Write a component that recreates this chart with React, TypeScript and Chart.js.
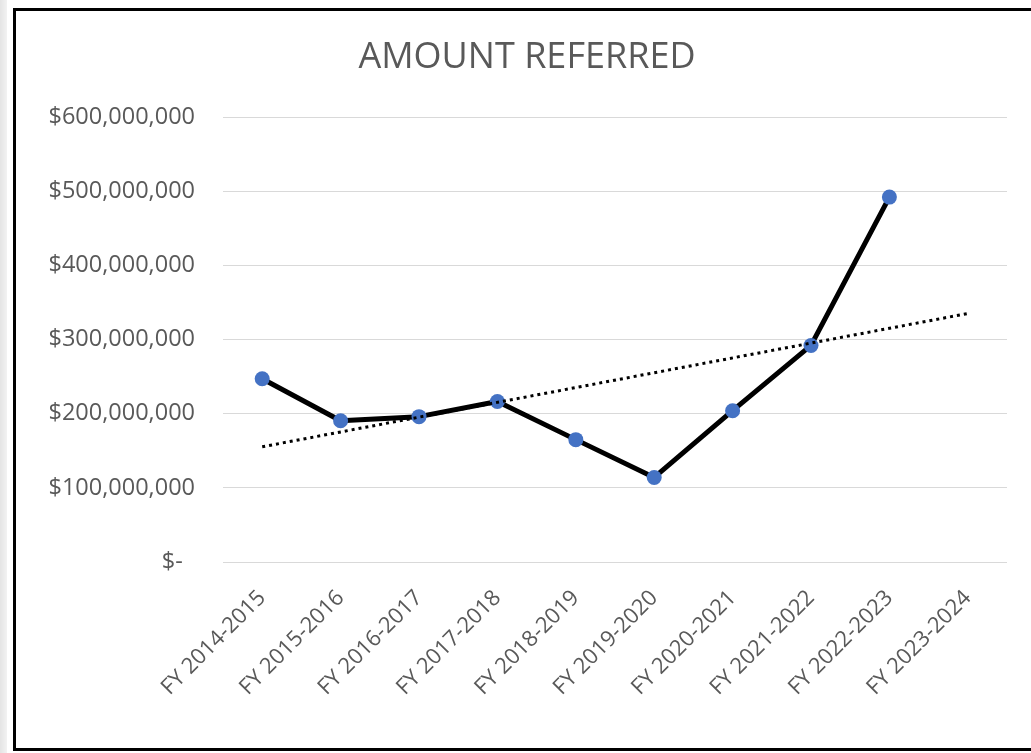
import React, { useEffect, useRef } from "react";
import { Chart, registerables } from "chart.js";

Chart.register(...registerables);

const categories: string[] = [
  "FY 2014-2015",
  "FY 2015-2016",
  "FY 2016-2017",
  "FY 2017-2018",
  "FY 2018-2019",
  "FY 2019-2020",
  "FY 2020-2021",
  "FY 2021-2022",
  "FY 2022-2023",
  "FY 2023-2024",
];

const amountReferred: (number | null)[] = [
  247000000, 190500000, 196000000, 216500000, 165000000, 114000000, 204000000,
  292000000, 492000000, null,
];

const yTicks: number[] = [0, 100000000, 200000000, 300000000, 400000000, 500000000, 600000000];

const chartTitle = "AMOUNT REFERRED";

// Linear trendline (least squares over the known points), drawn across all categories
function trendEndpoints(vals: (number | null)[], n: number): (number | null)[] {
  const pts: [number, number][] = [];
  vals.forEach((v, i) => {
    if (v !== null) pts.push([i, v]);
  });
  const mx = pts.reduce((s, p) => s + p[0], 0) / pts.length;
  const my = pts.reduce((s, p) => s + p[1], 0) / pts.length;
  let num = 0;
  let den = 0;
  pts.forEach(([x, y]) => {
    num += (x - mx) * (y - my);
    den += (x - mx) * (x - mx);
  });
  const slope = num / den;
  const intercept = my - slope * mx;
  const out: (number | null)[] = new Array(n).fill(null);
  out[0] = intercept;
  out[n - 1] = intercept + slope * (n - 1);
  return out;
}

function formatMoney(v: number): string {
  if (v === 0) return "$-  ";
  return "$" + v.toLocaleString("en-US");
}

const gray = "#595959";

// Title centred over the full chart object (as in the spreadsheet chart)
const titlePlugin = {
  id: "centeredTitle",
  afterDraw(chart: any) {
    const ctx = chart.ctx;
    ctx.save();
    ctx.font = "normal 36px 'Open Sans'";
    ctx.fillStyle = gray;
    ctx.textAlign = "center";
    ctx.textBaseline = "middle";
    ctx.fillText(chartTitle, chart.width / 2, 47);
    ctx.restore();
  },
};

export default function App() {
  const canvasRef = useRef<HTMLCanvasElement | null>(null);

  useEffect(() => {
    if (!canvasRef.current) return;
    const chart = new Chart(canvasRef.current, {
      type: "line",
      data: {
        labels: categories,
        datasets: [
          {
            label: "Linear (Amount Referred)",
            data: trendEndpoints(amountReferred, categories.length),
            borderColor: "#000000",
            borderWidth: 3,
            borderDash: [3, 4],
            pointRadius: 0,
            spanGaps: true,
            fill: false,
            order: 0,
          },
          {
            label: "Amount Referred",
            data: amountReferred,
            borderColor: "#000000",
            borderWidth: 5,
            borderJoinStyle: "round",
            borderCapStyle: "round",
            pointRadius: 7.5,
            pointBackgroundColor: "#4472C4",
            pointBorderWidth: 0,
            tension: 0,
            fill: false,
            order: 1,
          },
        ],
      },
      options: {
        responsive: false,
        animation: false,
        devicePixelRatio: 1,
        layout: { padding: { left: 0, right: 31, top: 106, bottom: 0 } },
        plugins: {
          legend: { display: false },
          tooltip: { enabled: false },
          title: { display: false },
        },
        scales: {
          x: {
            offset: true,
            grid: { display: false },
            border: { display: false },
            ticks: {
              color: gray,
              font: { family: "'Open Sans'", size: 22 },
              minRotation: 45,
              maxRotation: 45,
              autoSkip: false,
              padding: 15,
            },
            afterFit: (scale: any) => {
              scale.height = 186;
            },
          },
          y: {
            min: 0,
            max: 600000000,
            afterBuildTicks: (scale: any) => {
              scale.ticks = yTicks.map((v) => ({ value: v }));
            },
            grid: { color: "#d9d9d9", lineWidth: 1, drawTicks: false },
            border: { display: false },
            ticks: {
              color: gray,
              font: { family: "'Open Sans'", size: 23.5 },
              padding: 28,
              callback: (v: any) => formatMoney(Number(v)),
            },
            afterFit: (scale: any) => {
              scale.width = 207;
            },
          },
        },
      },
      plugins: [titlePlugin],
    } as any);
    return () => chart.destroy();
  }, []);

  return (
    <div style={{ position: "fixed", left: 0, top: 0, width: 1031, height: 753, background: "#ffffff", overflow: "hidden" }}>
      <div style={{ position: "absolute", left: 0, top: 0, width: 7, height: 753, background: "linear-gradient(to right, #e4e4e4, #f2f2f2)" }} />
      <div
        style={{
          position: "absolute",
          left: 13,
          top: 8,
          width: 1022,
          height: 737,
          border: "3px solid #000000",
          background: "#ffffff",
        }}
      >
        <canvas ref={canvasRef} width={1022} height={737} style={{ display: "block" }} />
      </div>
    </div>
  );
}
